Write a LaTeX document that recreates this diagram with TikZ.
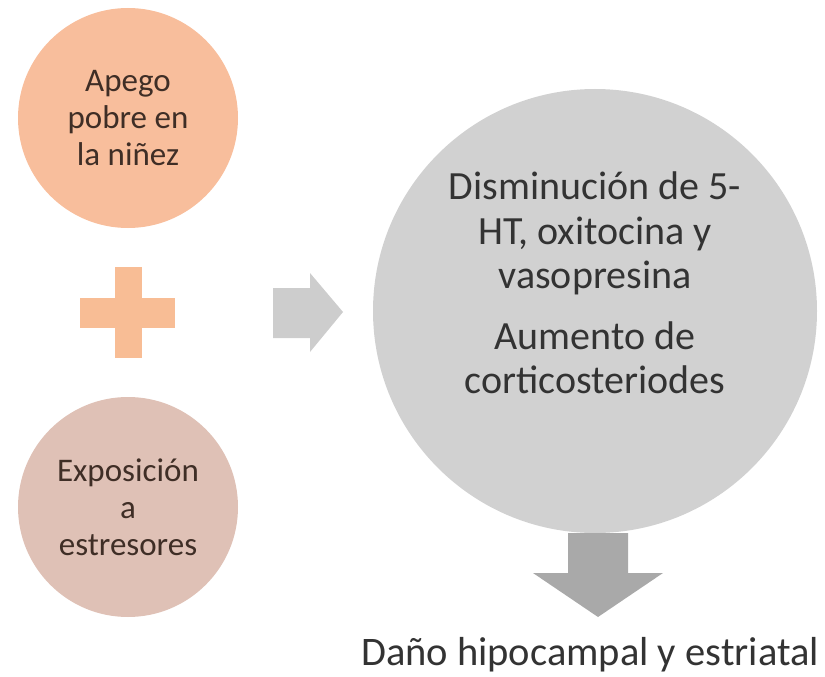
\documentclass[tikz,border=0pt]{standalone}
\usepackage{fontspec}
\setmainfont{Carlito}
\usetikzlibrary{shapes.arrows}
\definecolor{peach}{HTML}{F8BE9C}
\definecolor{rose}{HTML}{DFC1B6}
\definecolor{plusc}{HTML}{F8BD95}
\definecolor{bigc}{HTML}{D1D1D1}
\definecolor{arrowlight}{HTML}{CDCDCD}
\definecolor{arrowdark}{HTML}{A9A9A9}
\definecolor{browntext}{HTML}{3F2E26}
\definecolor{graytext}{HTML}{333333}
\tikzset{
  smallcirc/.style={circle, draw=none, minimum size=220pt, inner sep=0pt, align=center,
    text=browntext, font=\fontsize{33}{37}\selectfont},
  bigtext/.style={align=center, text=graytext, font=\fontsize{40}{44.5}\selectfont, inner sep=0pt},
}
\begin{document}
\begin{tikzpicture}[x=1pt,y=-1pt]
\useasboundingbox (0,0) rectangle (825,677);
% left circles
\node[smallcirc, fill=peach] (apego) at (128,118) {Apego\\pobre en\\la niñez};
\node[smallcirc, fill=rose] (expo) at (128,507) {Exposición\\a\\estresores};
% plus sign
\fill[plusc] (80,298) rectangle (175,328);
\fill[plusc] (115,267) rectangle (142,358);
\coordinate (plus) at (128,312);
% big circle
\node[circle, fill=bigc, minimum size=444pt, inner sep=0pt] (big) at (595,311) {};
\node[bigtext] (bigtxt) at (595,283) {Disminución de 5-\\HT, oxitocina y\\vasopresina\\[16pt]Aumento de\\corticosteriodes};
% right arrow
\fill[arrowlight] (273,288) -- (310,288) -- (310,273) -- (343,312) -- (310,352) -- (310,338) -- (273,338) -- cycle;
% down arrow
\fill[arrowdark] (568,533) -- (628,533) -- (628,573) -- (663,573) -- (598,617) -- (533,573) -- (568,573) -- cycle;
% result text
\node[anchor=base, text=graytext, font=\fontsize{40.5}{46}\selectfont, inner sep=0pt] (dano) at (590,665) {Daño hipocampal y estriatal};
\end{tikzpicture}
\end{document}
